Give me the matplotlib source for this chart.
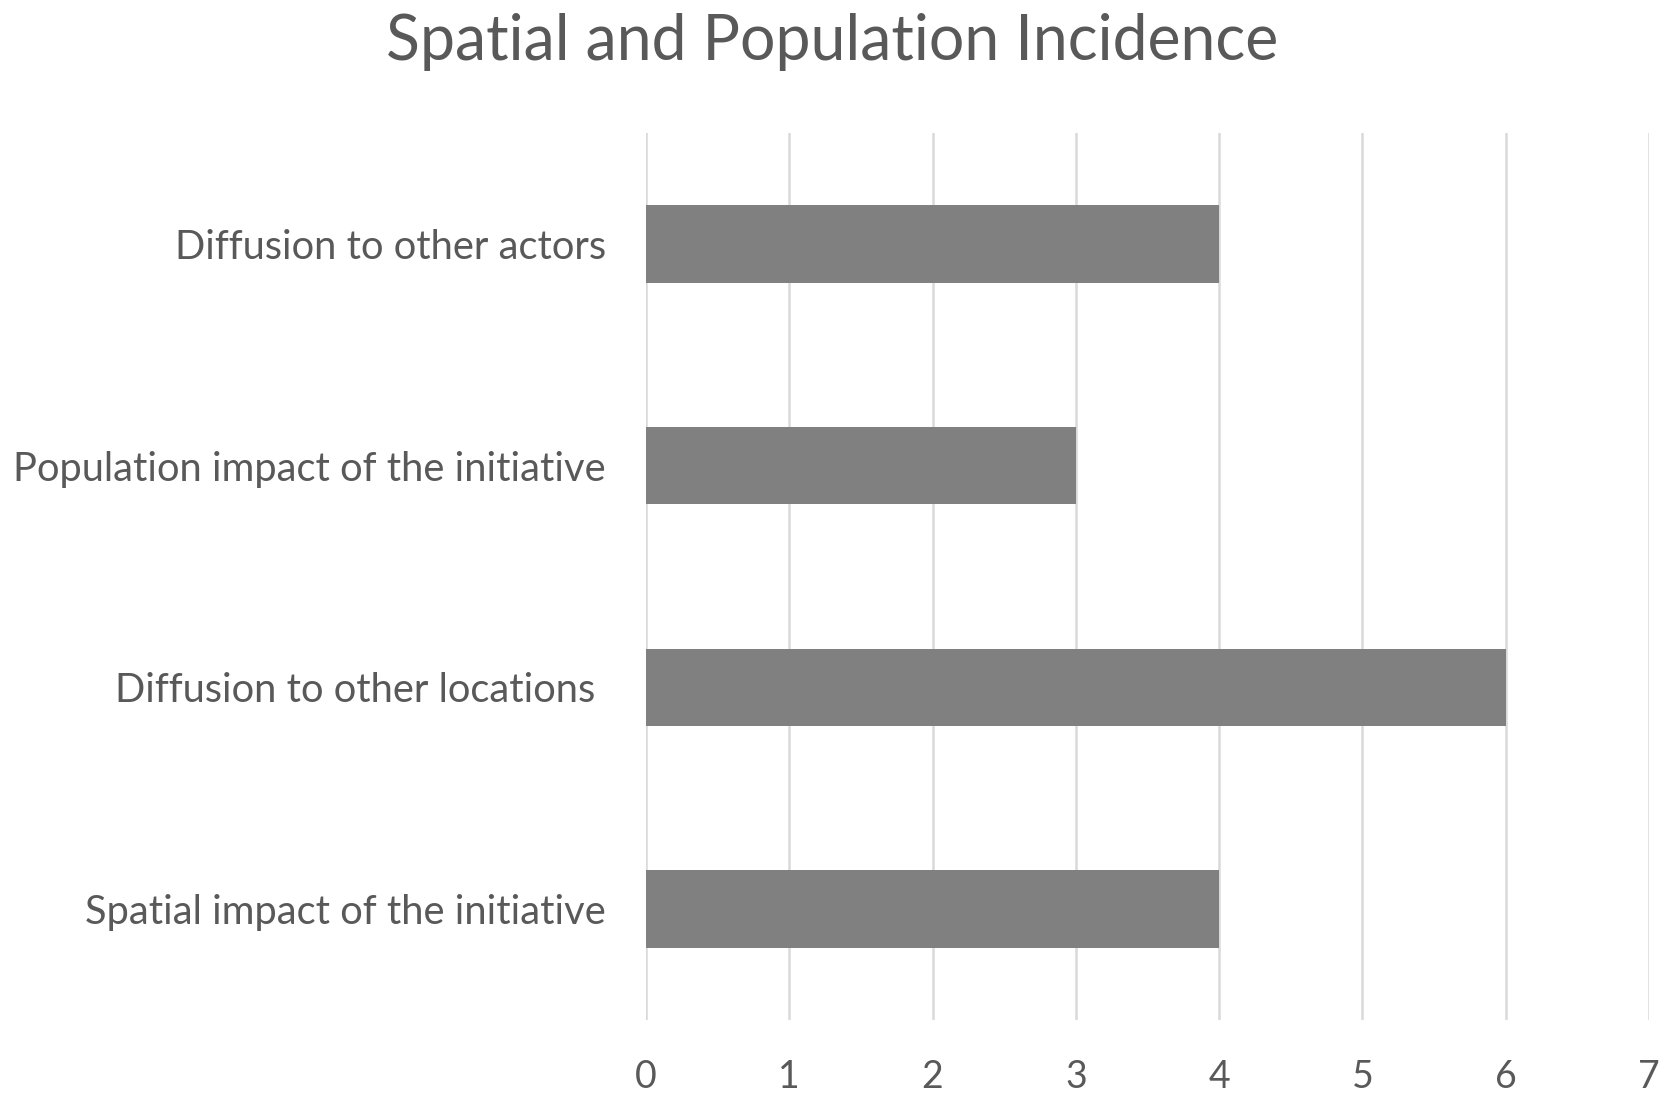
import matplotlib.pyplot as plt
import numpy as np

# Chart data
categories = [
    'Spatial impact of the initiative',
    'Diffusion to other locations ',
    'Population impact of the initiative',
    'Diffusion to other actors',
]
counts = [4, 6, 3, 4]
x_ticks = [0, 1, 2, 3, 4, 5, 6, 7]

TEXT = '#595959'
plt.rcParams['font.family'] = ['Lato', 'DejaVu Sans']

fig = plt.figure(figsize=(16.65, 11), dpi=100)
ax = fig.add_axes([646 / 1665, 1 - 1020 / 1100, (1649 - 646) / 1665, (1020 - 133) / 1100])

y = np.arange(len(categories))
ax.barh(y, counts, height=0.35, color='#808080', zorder=3)

ax.set_xlim(0, 7)
ax.set_ylim(-0.5, len(categories) - 0.5)
ax.set_xticks(x_ticks)
ax.set_xticklabels([str(t) for t in x_ticks])
ax.set_yticks(y)
ax.set_yticklabels(categories)

ax.grid(axis='x', color='#d9d9d9', linewidth=1.8, zorder=0)
ax.set_axisbelow(True)
for s in ax.spines.values():
    s.set_visible(False)
ax.tick_params(axis='both', length=0, colors=TEXT)
ax.tick_params(axis='y', pad=29, labelsize=28.7)
ax.tick_params(axis='x', pad=28, labelsize=27)

fig.text(0.5, 1 - 42 / 1100, 'Spatial and Population Incidence', ha='center', va='center',
         fontsize=45, color=TEXT)

fig.savefig('out.png', dpi=100, facecolor='white')
